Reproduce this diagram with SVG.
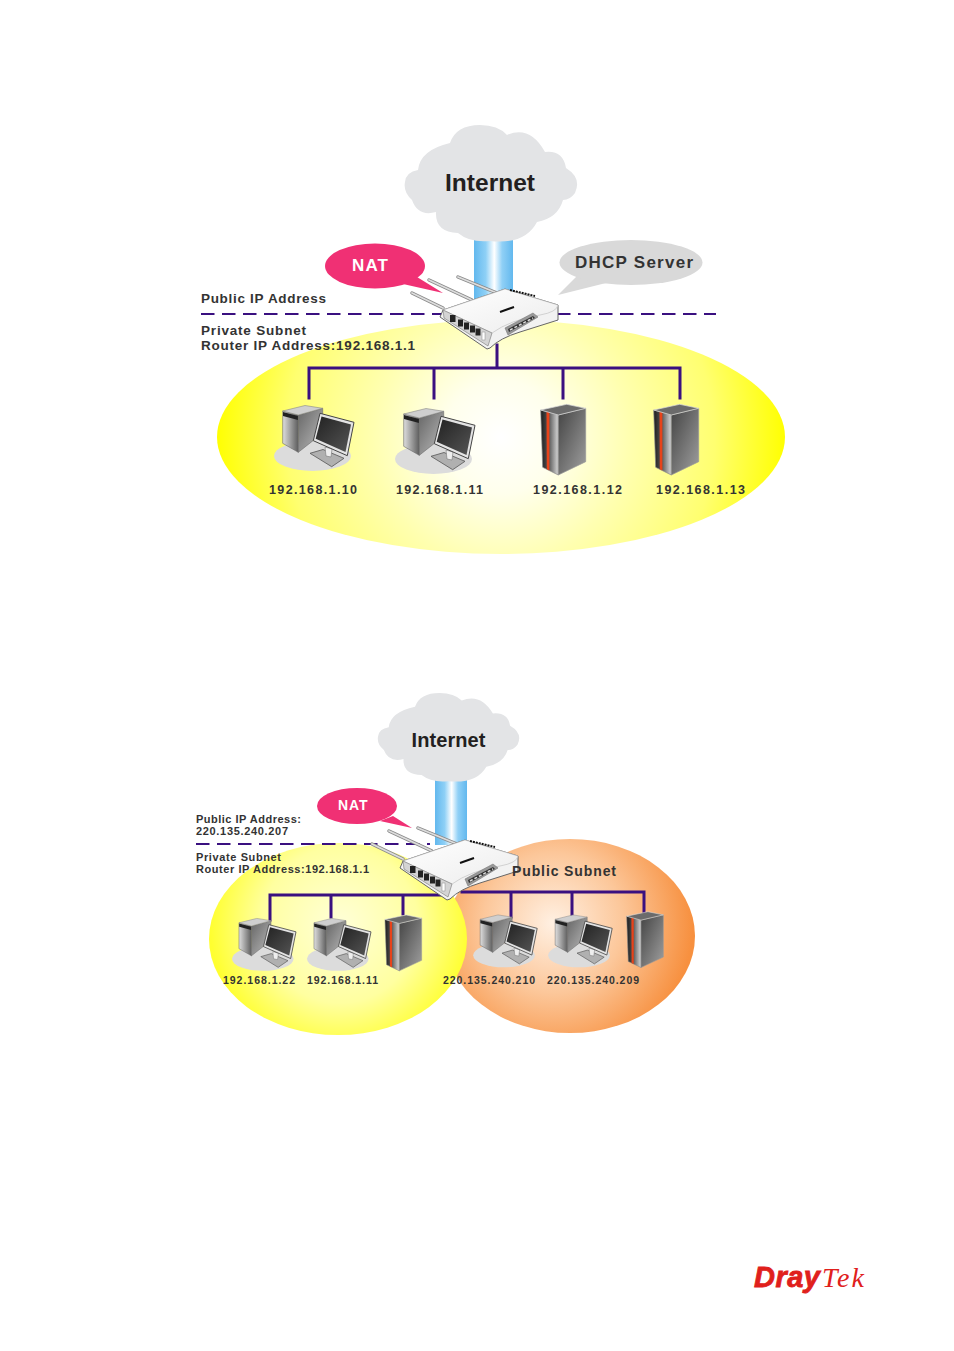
<svg xmlns="http://www.w3.org/2000/svg" width="954" height="1351" viewBox="0 0 954 1351">
<style>
text{font-family:"Liberation Sans",Arial,sans-serif;font-weight:bold;fill:#333}
.bus{fill:none;stroke:#3a1080;stroke-width:3;stroke-linecap:square}
.dash{fill:none;stroke:#3a1080;stroke-width:2;stroke-dasharray:13.5 7.5}
.cloud{fill:#e3e4e6}
.lbl{font-size:13.5px}.ip{font-size:12.5px}.lbl2{font-size:11px}.ip2{font-size:10.5px}
.nat{fill:#fff;font-size:17px}
.bub{fill:#f03074}
.ant{stroke-linecap:round;fill:none}
</style>
<defs>
<radialGradient id="gY" gradientUnits="userSpaceOnUse" cx="501" cy="437" r="285"><stop offset="0" stop-color="#fff"/><stop offset=".2" stop-color="#ffffec"/><stop offset=".45" stop-color="#ffffb0"/><stop offset=".75" stop-color="#ffff70"/><stop offset="1" stop-color="#ff0"/></radialGradient>
<radialGradient id="gY2" gradientUnits="userSpaceOnUse" cx="340" cy="925" r="130"><stop offset="0" stop-color="#ffffd8"/><stop offset=".6" stop-color="#ffffa0"/><stop offset="1" stop-color="#ffff30"/></radialGradient>
<radialGradient id="gO" gradientUnits="userSpaceOnUse" cx="553" cy="923" r="140"><stop offset="0" stop-color="#fff0e2"/><stop offset=".5" stop-color="#fcc79a"/><stop offset="1" stop-color="#f7903f"/></radialGradient>
<linearGradient id="gB"><stop offset="0" stop-color="#62b8ee"/><stop offset=".3" stop-color="#8ed0f6"/><stop offset=".52" stop-color="#fff"/><stop offset=".72" stop-color="#90d0f6"/><stop offset="1" stop-color="#62b8ee"/></linearGradient>
<linearGradient id="gTF"><stop offset="0" stop-color="#dedede"/><stop offset="1" stop-color="#5e5e5e"/></linearGradient>
<linearGradient id="gTS" x1="0" y1="0" x2="1" y2="1"><stop offset="0" stop-color="#666"/><stop offset="1" stop-color="#bcbcbc"/></linearGradient>
<linearGradient id="gSF"><stop offset="0" stop-color="#1c1c1c"/><stop offset=".45" stop-color="#555"/><stop offset="1" stop-color="#d8d8d8"/></linearGradient>
<linearGradient id="gSS" x1="0" y1="0" x2="1" y2="1"><stop offset="0" stop-color="#444"/><stop offset="1" stop-color="#a0a0a0"/></linearGradient>
<linearGradient id="gM" x1="0" y1="0" x2="1" y2="1"><stop offset="0" stop-color="#222"/><stop offset="1" stop-color="#555"/></linearGradient>
<linearGradient id="gR" x1="0" y1="0" x2="1" y2="1"><stop offset="0" stop-color="#fff"/><stop offset="1" stop-color="#ececec"/></linearGradient>

<path id="cloud" class="cloud" d="M405 182Q406 172 418 170Q420 150 450 143Q456 125 480 125Q498 125 507 135Q530 125 545 152Q563 150 566 168Q582 178 575 193Q570 200 563 200Q558 218 537 222Q525 245 490 241Q470 243 458 233Q435 232 436 212Q418 217 412 200Q403 192 405 182Z"/>

<g id="pc">
<ellipse cx="312.500" cy="456" rx="38.500" ry="15" fill="#dcdcdc"/>
<polygon points="310,453.300 323,449.500 344,458.300 331.700,466.700" fill="#b0b0b0" stroke="#555" stroke-width=".8"/>
<polygon points="325,447 332,449 331,457 326,456" fill="#eee" stroke="#777" stroke-width=".6"/>
<polygon points="282.700,411 298.300,415 298.300,452.300 282.700,443.300" fill="url(#gTF)" stroke="#666" stroke-width=".6"/>
<polygon points="283,412 298,416 298,420 283,416" fill="#222"/>
<polygon points="298.300,415 322.700,408.300 322.700,433 298.300,452.300" fill="url(#gTS)" stroke="#666" stroke-width=".6"/>
<polygon points="282.700,411 305,405.500 322.700,408.300 298.300,415" fill="#cfcfcf" stroke="#888" stroke-width=".6"/>
<polygon points="320,413.300 354,422.300 347.300,455.700 313.300,440.700" fill="#e4e4e4" stroke="#444" stroke-width="1"/>
<polygon points="321.500,416.500 351,424.500 345.500,452 315.700,438.800" fill="url(#gM)"/>
</g>

<g id="srv">
<polygon points="540.700,410 558.300,415 558.300,475 542.700,467.300" fill="url(#gSF)" stroke="#888" stroke-width=".7"/>
<polygon points="546.500,411.800 549.400,412.600 549.400,470.500 546.800,469.300" fill="#e8431a"/>
<polygon points="558.300,415 585.700,408.300 585.700,461.700 558.300,475" fill="url(#gSS)" stroke="#999" stroke-width=".7"/>
<polygon points="540.700,410 566.700,404.300 585.700,408.300 558.300,415" fill="#6b6b6b" stroke="#ddd" stroke-width=".7"/>
</g>

<g id="rtr">
<g class="ant">
<path d="M412 293L443 308" stroke="#8a8a8a" stroke-width="3.500"/><path d="M412 293L443 308" stroke="#ddd" stroke-width="1.800"/>
<path d="M429 280L472 300" stroke="#8a8a8a" stroke-width="3.500"/><path d="M429 280L472 300" stroke="#ddd" stroke-width="1.800"/>
<path d="M458 277L497 293" stroke="#8a8a8a" stroke-width="3.500"/><path d="M458 277L497 293" stroke="#ddd" stroke-width="1.800"/>
</g>
<path d="M443 310L440 317L487 349L490 348Q500 338 520 332L558 320L558 305L505 289Z" fill="#f2f2f2" stroke="#666" stroke-width="1"/>
<path d="M443 310L505 289L558 305Q557 312 540 315Q510 320 492 333Z" fill="url(#gR)" stroke="#bbb" stroke-width=".6"/>
<path d="M443 310L492 333L488 346L444 318Z" fill="#d4d4d4" stroke="#777" stroke-width=".6"/>
<g fill="#222"><rect x="450" y="315" width="5.500" height="7"/><rect x="458" y="319.500" width="5" height="7"/><rect x="464" y="322.500" width="5" height="7"/><rect x="470" y="325.500" width="5" height="7"/><rect x="475.500" y="328.500" width="5" height="7"/></g>
<rect x="482" y="332" width="3" height="8" fill="#fff" stroke="#888" stroke-width=".5"/>
<polygon points="505,328 533,313 538,317 508,335" fill="#999" stroke="#777" stroke-width=".6"/>
<polygon points="508,329 533,316 535,318 509,332" fill="#333"/>
<path d="M510 330L533 318" stroke="#ddd" stroke-width="1.500" stroke-dasharray="3 2" fill="none"/>
<path d="M500 312L514 307" stroke="#111" stroke-width="2"/>
<path d="M510 290L535 296" stroke="#111" stroke-width="2" stroke-dasharray="2 1"/>
</g>
</defs>

<ellipse id="zone-private-1" cx="501" cy="437" rx="284" ry="117" fill="url(#gY)"/>
<ellipse id="zone-public-2" cx="570" cy="936" rx="125" ry="97" fill="url(#gO)"/>
<ellipse id="zone-private-2" cx="338" cy="939" rx="129" ry="96" fill="url(#gY2)"/>

<g id="beams">
<rect x="474" y="230" width="39" height="70" fill="url(#gB)"/>
<rect x="435" y="775" width="32" height="70" fill="url(#gB)"/>
</g>

<g id="connectors">
<path class="dash" d="M201 314H445"/>
<path class="dash" d="M557 314H716"/>
<path class="bus" d="M497 345V368M309 398V368H680V398M434 368V398M563 368V398"/>
<path class="dash" d="M196 844H430"/>
<path class="bus" d="M270 920V895H445M331 895V917M403 895V914"/>
<path class="bus" d="M462 892H644V912M511 892V917M572 892V915"/>
</g>

<g id="cloud-1"><use href="#cloud"/><text x="445" y="191" textLength="90" style="font-size:24.500px;fill:#231f20">Internet</text></g>
<g id="nat-1"><path class="bub" d="M403 284L443 293L417 277Z"/><ellipse class="bub" cx="375" cy="266" rx="50" ry="22.500"/><text class="nat" x="352" y="271" textLength="36">NAT</text></g>
<g id="dhcp"><path d="M577 276L558 295L606 283Z" fill="#d9d9d9"/><ellipse cx="631" cy="262.500" rx="71.500" ry="22.500" fill="#d9d9d9"/><text x="575" y="268" textLength="118" style="font-size:17px">DHCP Server</text></g>
<g id="router-1"><use href="#rtr"/></g>

<g id="labels-1">
<text class="lbl" x="201" y="302.500" textLength="125">Public IP Address</text>
<text class="lbl" x="201" y="335" textLength="105">Private Subnet</text>
<text class="lbl" x="201" y="350" textLength="214">Router IP Address:192.168.1.1</text>
</g>

<g id="pc-10"><use href="#pc"/><text class="ip" x="269" y="494" textLength="88">192.168.1.10</text></g>
<g id="pc-11"><use href="#pc" transform="translate(121,3)"/><text class="ip" x="396" y="494" textLength="87">192.168.1.11</text></g>
<g id="srv-12"><use href="#srv"/><text class="ip" x="533" y="494" textLength="89">192.168.1.12</text></g>
<g id="srv-13"><use href="#srv" transform="translate(113,0)"/><text class="ip" x="656" y="494" textLength="89">192.168.1.13</text></g>

<g id="cloud-2"><use href="#cloud" transform="translate(46,598) scale(.82,.76)"/><text x="411.500" y="747" textLength="74" style="font-size:20px;fill:#231f20">Internet</text></g>
<g id="nat-2"><path class="bub" d="M380 821L412 828L393 816Z"/><ellipse class="bub" cx="357" cy="806" rx="40" ry="18"/><text class="nat" x="338" y="810" textLength="29.500" style="font-size:14px">NAT</text></g>
<g id="router-2"><use href="#rtr" transform="translate(-40,551)"/></g>

<g id="labels-2">
<text class="lbl2" x="196" y="823" textLength="105">Public IP Address:</text>
<text class="lbl2" x="196" y="835" textLength="92">220.135.240.207</text>
<text class="lbl2" x="196" y="861" textLength="85">Private Subnet</text>
<text class="lbl2" x="196" y="873" textLength="173">Router IP Address:192.168.1.1</text>
<text x="512" y="876" textLength="104" style="font-size:14px">Public Subnet</text>
</g>

<g id="pc-22"><use href="#pc" transform="translate(12.800,594) scale(.8)"/><text class="ip2" x="223" y="984" textLength="72">192.168.1.22</text></g>
<g id="pc-11b"><use href="#pc" transform="translate(87.800,594) scale(.8)"/><text class="ip2" x="307" y="984" textLength="71">192.168.1.11</text></g>
<g id="srv-b"><use href="#srv" transform="translate(-55.700,595.600) scale(.815,.79)"/></g>
<g id="pc-210"><use href="#pc" transform="translate(254,590.500) scale(.8)"/><text class="ip2" x="443" y="984" textLength="92">220.135.240.210</text></g>
<g id="pc-209"><use href="#pc" transform="translate(329,590.500) scale(.8)"/><text class="ip2" x="547" y="984" textLength="92">220.135.240.209</text></g>
<g id="srv-c"><use href="#srv" transform="translate(186,592.300) scale(.815,.79)"/></g>

<g id="logo">
<text x="754" y="1287" textLength="66" style="font-size:29px;font-style:italic;font-weight:bold;fill:#e0201c;stroke:#e0201c;stroke-width:.8">Dray</text>
<text x="822" y="1287" textLength="42" style="font-family:'Liberation Serif',serif;font-size:28px;font-style:italic;font-weight:normal;fill:#e0201c">Tek</text>
</g>
</svg>
